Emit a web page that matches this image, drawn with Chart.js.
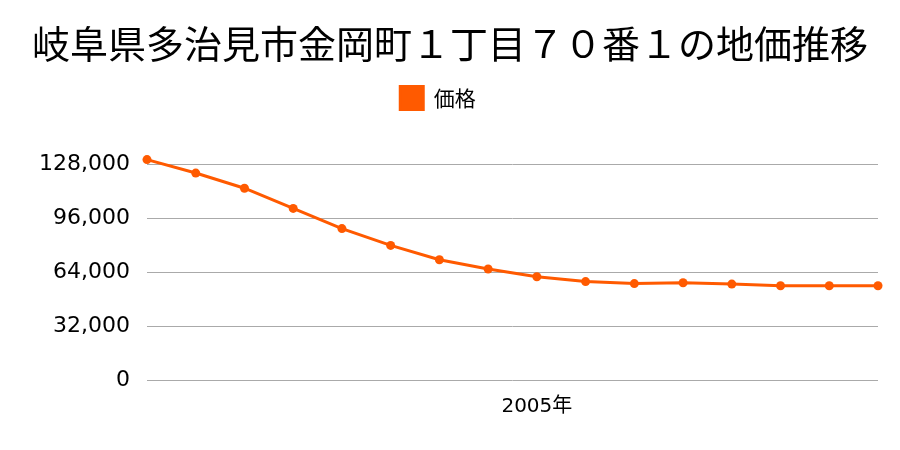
<!DOCTYPE html>
<html>
<head>
<meta charset="utf-8">
<script src="https://cdn.jsdelivr.net/npm/chart.js@4/dist/chart.umd.min.js"></script>
<style>
  body { margin: 0; background: #fff; }
  #wrap { width: 900px; height: 450px; }
</style>
</head>
<body>
<div id="wrap"><canvas id="chart"></canvas></div>
<script>
var years = ["1997", "1998", "1999", "2000", "2001", "2002", "2003", "2004",
             "2005", "2006", "2007", "2008", "2009", "2010", "2011", "2012"];
var prices = [131000, 123000, 114000, 102000, 90000, 80000, 71500, 66000,
              61400, 58500, 57300, 57800, 57000, 56000, 56000, 56000];
var shownYear = "2005";
var yTicks = [0, 32000, 64000, 96000, 128000];

var font = "'Noto Sans CJK JP', 'Noto Sans', sans-serif";
var numFont = "'DejaVu Sans', 'Noto Sans CJK JP', sans-serif";

// extra space under the legend, and legend nudged a bit to the left
var legendGap = {
  id: 'legendGap',
  beforeInit: function(chart){
    var fit = chart.legend.fit;
    chart.legend.fit = function(){
      fit.bind(chart.legend)();
      this.height += 40;
    };
  },
  afterLayout: function(chart){
    chart.legend.left -= 12;
    chart.legend.right -= 12;
  }
};

try{
var myLineChart = new Chart(document.getElementById("chart").getContext("2d"), {
  type: 'line',
  data: {
    labels: years,
    datasets: [{
      label: '価格',
      data: prices,
      borderColor: '#FF5A00',
      backgroundColor: '#FF5A00',
      borderWidth: 3,
      pointRadius: 4.5,
      pointHoverRadius: 5,
      pointBackgroundColor: '#FF5A00',
      pointBorderWidth: 0,
      tension: 0,
      clip: false
    }]
  },
  options: {
    responsive: true,
    maintainAspectRatio: false,
    animation: false,
    layout: { padding: { left: 22, right: 22, top: 0, bottom: 24 } },
    plugins: {
      title: {
        display: true,
        text: '岐阜県多治見市金岡町１丁目７０番１の地価推移',
        color: '#000',
        font: { family: font, size: 38, weight: 'normal' },
        padding: { top: 21, bottom: 10 }
      },
      legend: {
        display: true,
        labels: {
          color: '#000',
          boxWidth: 23,
          boxHeight: 23,
          font: { family: font, size: 21 }
        }
      },
      tooltip: { enabled: false }
    },
    scales: {
      x: {
        grid: { display: false },
        border: { display: false },
        ticks: {
          autoSkip: false,
          maxRotation: 0,
          color: '#000',
          padding: 7,
          font: { family: numFont, size: 20 },
          callback: function(value, index){
            return years[index] === shownYear ? years[index] + '年' : '';
          }
        }
      },
      y: {
        min: 0,
        max: 131000,
        afterFit: function(scale){ scale.width = 125; },
        afterBuildTicks: function(scale){
          scale.ticks = yTicks.map(function(v){ return { value: v }; });
        },
        grid: { color: '#aaaaaa', lineWidth: 1, drawTicks: false },
        border: { display: false },
        ticks: {
          color: '#000',
          padding: 17,
          font: { family: numFont, size: 22 },
          callback: function(v){ return v.toLocaleString('en-US'); }
        }
      }
    }
  },
  plugins: [legendGap]
});
}
catch (e){
  console.log("chart " + e);
}
</script>
</body>
</html>
